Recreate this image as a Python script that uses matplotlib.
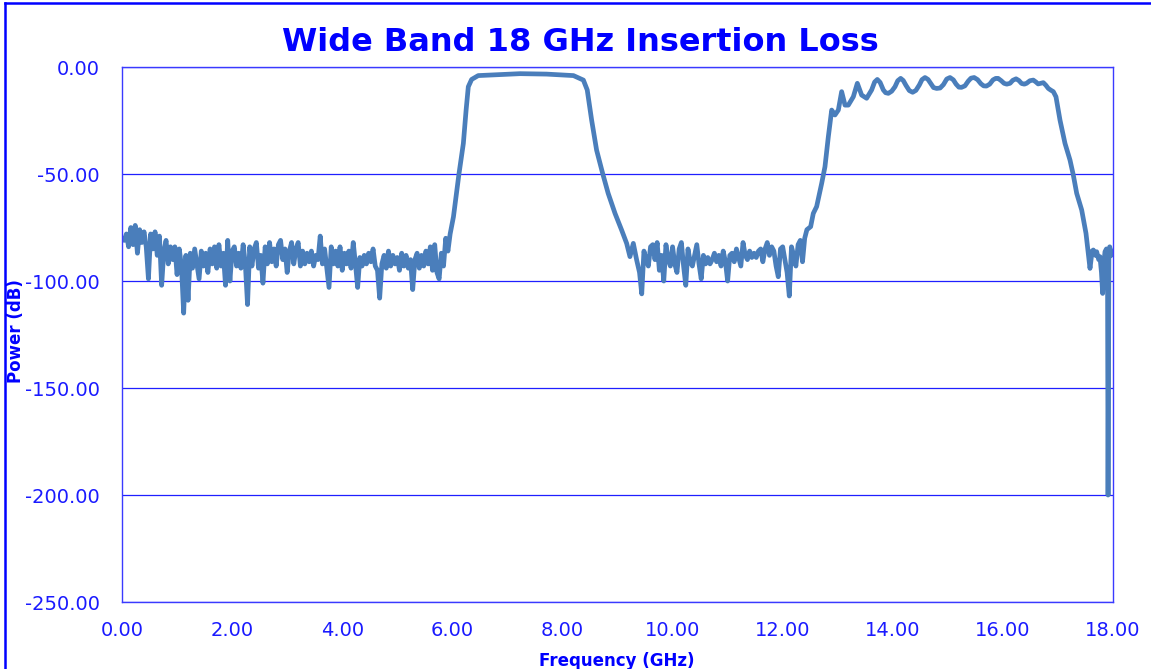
import matplotlib
matplotlib.use("Agg")
import matplotlib.pyplot as plt
from matplotlib.lines import Line2D
from matplotlib.ticker import FormatStrFormatter

plt.rcParams["axes.unicode_minus"] = False

# --- trace data (GHz, dB) ---

# noise floor below the first pass band
floor_a_freq = [
    0.00, 0.04, 0.08, 0.12, 0.16, 0.20, 0.24, 0.28, 0.32, 0.36,
    0.40, 0.44, 0.48, 0.52, 0.56, 0.60, 0.64, 0.68, 0.72, 0.76,
    0.80, 0.84, 0.88, 0.92, 0.96, 1.00, 1.04, 1.08, 1.12, 1.16,
    1.20, 1.24, 1.28, 1.32, 1.36, 1.40, 1.44, 1.48, 1.52, 1.56,
    1.60, 1.64, 1.68, 1.72, 1.76, 1.80, 1.84, 1.88, 1.92, 1.96,
    2.00, 2.04, 2.08, 2.12, 2.16, 2.20, 2.24, 2.28, 2.32, 2.36,
    2.40, 2.44, 2.48, 2.52, 2.56, 2.60, 2.64, 2.68, 2.72, 2.76,
    2.80, 2.84, 2.88, 2.92, 2.96, 3.00, 3.04, 3.08, 3.12, 3.16,
    3.20, 3.24, 3.28, 3.32, 3.36, 3.40, 3.44, 3.48, 3.52, 3.56,
    3.60, 3.64, 3.68, 3.72, 3.76, 3.80, 3.84, 3.88, 3.92, 3.96,
    4.00, 4.04, 4.08, 4.12, 4.16, 4.20, 4.24, 4.28, 4.32, 4.36,
    4.40, 4.44, 4.48, 4.52, 4.56, 4.60, 4.64, 4.68, 4.72, 4.76,
    4.80, 4.84, 4.88, 4.92, 4.96, 5.00, 5.04, 5.08, 5.12, 5.16,
    5.20, 5.24, 5.28, 5.32, 5.36, 5.40, 5.44, 5.48, 5.52, 5.56,
    5.60, 5.64, 5.68, 5.72, 5.76, 5.80, 5.84, 5.88, 5.92, 5.96,
]
floor_a_db = [
    -80, -81, -78, -84, -75, -83, -74, -87, -76, -82,
    -77, -84, -99, -78, -85, -77, -88, -79, -102, -86,
    -81, -92, -84, -90, -84, -97, -85, -93, -115, -88,
    -109, -87, -94, -85, -92, -99, -86, -93, -87, -96,
    -85, -92, -84, -94, -83, -93, -87, -102, -81, -100,
    -86, -84, -93, -87, -94, -83, -92, -111, -84, -93,
    -85, -82, -94, -88, -101, -84, -92, -82, -91, -85,
    -93, -83, -81, -90, -85, -96, -86, -82, -92, -85,
    -82, -93, -86, -92, -87, -91, -86, -93, -88, -90,
    -79, -92, -85, -94, -103, -84, -92, -86, -93, -84,
    -95, -87, -92, -86, -94, -82, -92, -103, -89, -93,
    -88, -92, -87, -91, -85, -93, -95, -108, -92, -88,
    -94, -86, -93, -88, -92, -89, -95, -87, -93, -88,
    -94, -90, -104, -90, -87, -94, -88, -93, -86, -92,
    -84, -95, -83, -96, -99, -87, -93, -80, -86, -78,
]

# first pass band, about 6.2 - 8.5 GHz
band_a_freq = [6.02, 6.06, 6.12, 6.20, 6.25, 6.29, 6.35, 6.47, 6.80, 7.23,
               7.71, 8.20, 8.38, 8.45, 8.53, 8.62, 8.73, 8.83, 8.955, 9.075,
               9.166, 9.226, 9.287, 9.348]
band_a_db = [-70.0, -62.0, -50.0, -35.7, -20.1, -9.2, -5.8, -4.0, -3.6, -3.1,
             -3.3, -4.0, -6.1, -10.7, -24.8, -38.8, -49.7, -59.0, -68.4, -76.2,
             -82.4, -88.6, -82.4, -90.2]

# noise floor between the two bands
floor_b_freq = [
    9.40, 9.44, 9.48, 9.52, 9.56, 9.60, 9.64, 9.68, 9.72, 9.76,
    9.80, 9.84, 9.88, 9.92, 9.96, 10.00, 10.04, 10.08, 10.12, 10.16,
    10.20, 10.24, 10.28, 10.32, 10.36, 10.40, 10.44, 10.48, 10.52, 10.56,
    10.60, 10.64, 10.68, 10.72, 10.76, 10.80, 10.84, 10.88, 10.92, 10.96,
    11.00, 11.04, 11.08, 11.12, 11.16, 11.20, 11.24, 11.28, 11.32, 11.36,
    11.40, 11.44, 11.48, 11.52, 11.56, 11.60, 11.64, 11.68, 11.72, 11.76,
    11.80, 11.84, 11.88, 11.92, 11.96, 12.00, 12.04, 12.08, 12.12, 12.16,
    12.20, 12.24, 12.28, 12.32, 12.36, 12.40, 12.44,
]
floor_b_db = [
    -96, -106, -86, -90, -93, -84, -83, -90, -82, -95,
    -88, -100, -83, -90, -93, -84, -92, -96, -85, -82,
    -93, -102, -85, -91, -93, -88, -83, -92, -99, -88,
    -92, -89, -92, -90, -87, -91, -88, -93, -86, -91,
    -100, -88, -87, -91, -85, -89, -93, -82, -88, -90,
    -86, -89, -87, -89, -86, -85, -91, -85, -82, -88,
    -84, -86, -93, -98, -85, -84, -90, -96, -107, -84,
    -88, -93, -83, -81, -91, -80, -76,
]

# second pass band with ripple, about 12.9 - 17 GHz
band_b_freq = [
    12.508, 12.556, 12.617, 12.708, 12.768, 12.829, 12.890, 12.950, 13.011, 13.071,
    13.132, 13.192, 13.283, 13.356, 13.434, 13.525, 13.616, 13.67, 13.719, 13.77,
    13.828, 13.87, 13.919, 13.98, 14.040, 14.09, 14.143, 14.19, 14.240, 14.30,
    14.361, 14.42, 14.482, 14.53, 14.585, 14.64, 14.688, 14.74, 14.797, 14.86,
    14.920, 14.98, 15.039, 15.10, 15.150, 15.20, 15.247, 15.31, 15.370, 15.42,
    15.478, 15.54, 15.600, 15.65, 15.701, 15.76, 15.82, 15.87, 15.913, 15.97,
    16.02, 16.07, 16.130, 16.18, 16.239, 16.29, 16.34, 16.39, 16.43, 16.49,
    16.552, 16.60, 16.64, 16.69, 16.734, 16.78, 16.825, 16.87, 16.916, 16.964,
    17.037, 17.128, 17.219, 17.279, 17.340, 17.431, 17.509,
]
band_b_db = [
    -74.6, -68.4, -65.2, -54.4, -46.6, -32.6, -20.1, -22.4, -20.1, -11.5,
    -17.8, -17.8, -13.9, -7.6, -13.1, -14.6, -10.7, -7.0, -5.8, -7.2,
    -10.7, -12.0, -12.3, -11.3, -9.2, -6.4, -5.3, -6.3, -8.6, -11.0,
    -11.8, -10.9, -8.4, -5.9, -4.9, -5.8, -7.6, -9.6, -10.0, -9.8,
    -8.2, -5.6, -4.9, -6.0, -8.0, -9.4, -9.5, -8.8, -6.6, -5.2,
    -4.9, -5.9, -7.8, -8.8, -8.9, -8.0, -6.0, -5.3, -5.3, -6.4,
    -7.6, -8.0, -7.6, -6.2, -5.5, -6.3, -7.7, -8.0, -7.6, -6.4,
    -6.1, -7.0, -7.9, -7.6, -7.3, -8.5, -10.0, -10.8, -11.5, -13.9,
    -24.8, -35.7, -43.5, -50.5, -59.0, -66.8, -77.7,
]

# last bit of floor, with the single -200 dB dropout near 17.9 GHz
tail_freq = [17.552, 17.582, 17.62, 17.642, 17.68, 17.703, 17.74, 17.763, 17.79, 17.812,
             17.84, 17.854, 17.88, 17.90, 17.91, 17.925, 17.94, 17.97, 17.99]
tail_db = [-87.1, -94.1, -86.0, -85.5, -88.0, -86.3, -90.0, -88.6, -96.0, -105.8,
           -90.0, -86.3, -85.0, -92.0, -200.0, -90.0, -84.0, -88.0, -86.0]

x_ticks = [0, 2, 4, 6, 8, 10, 12, 14, 16, 18]
y_ticks = [-250, -200, -150, -100, -50, 0]

freq_ghz = floor_a_freq + band_a_freq + floor_b_freq + band_b_freq + tail_freq
power_db = floor_a_db + band_a_db + floor_b_db + band_b_db + tail_db

BLUE = "#0000ff"
TICK_BLUE = "#1a1aff"
TRACE = "#4a7ebb"

fig = plt.figure(figsize=(11.51, 6.69), dpi=100)
ax = fig.add_axes([0.106, 0.1001, 0.861, 0.7997])

ax.plot(freq_ghz, power_db, color=TRACE, linewidth=3.4,
        solid_joinstyle="round", solid_capstyle="round")

ax.set_xlim(0, 18)
ax.set_ylim(-250, 0)
ax.set_xticks(x_ticks)
ax.set_yticks(y_ticks)
ax.xaxis.set_major_formatter(FormatStrFormatter("%.2f"))
ax.yaxis.set_major_formatter(FormatStrFormatter("%.2f"))
ax.tick_params(axis="both", length=0, labelcolor=TICK_BLUE, labelsize=14)
ax.tick_params(axis="x", pad=14)
ax.tick_params(axis="y", pad=16)

ax.yaxis.grid(True, color="#1f1fff", linewidth=0.9)
ax.set_axisbelow(True)
for side in ax.spines.values():
    side.set_color("#3a3aff")
    side.set_linewidth(1.0)

# title and axis titles in figure coords, like the spreadsheet chart
fig.text(0.504, 0.937, "Wide Band 18 GHz Insertion Loss", ha="center", va="center",
         fontsize=23, fontweight="bold", color=BLUE)
fig.text(0.536, 0.012, "Frequency (GHz)", ha="center", va="center",
         fontsize=12, fontweight="bold", color=BLUE)
fig.text(0.014, 0.505, "Power (dB)", ha="center", va="center", rotation=90,
         fontsize=12, fontweight="bold", color=BLUE)

# chart-area frame, cut off on the right and bottom in the source image
fx = 5 / 1151
fy = 1 - 2.5 / 669
fig.add_artist(Line2D([fx, fx], [0, fy], transform=fig.transFigure,
                      color=BLUE, linewidth=1.8))
fig.add_artist(Line2D([fx, 1], [fy, fy], transform=fig.transFigure,
                      color=BLUE, linewidth=1.8))

fig.savefig("out.png", dpi=100)
